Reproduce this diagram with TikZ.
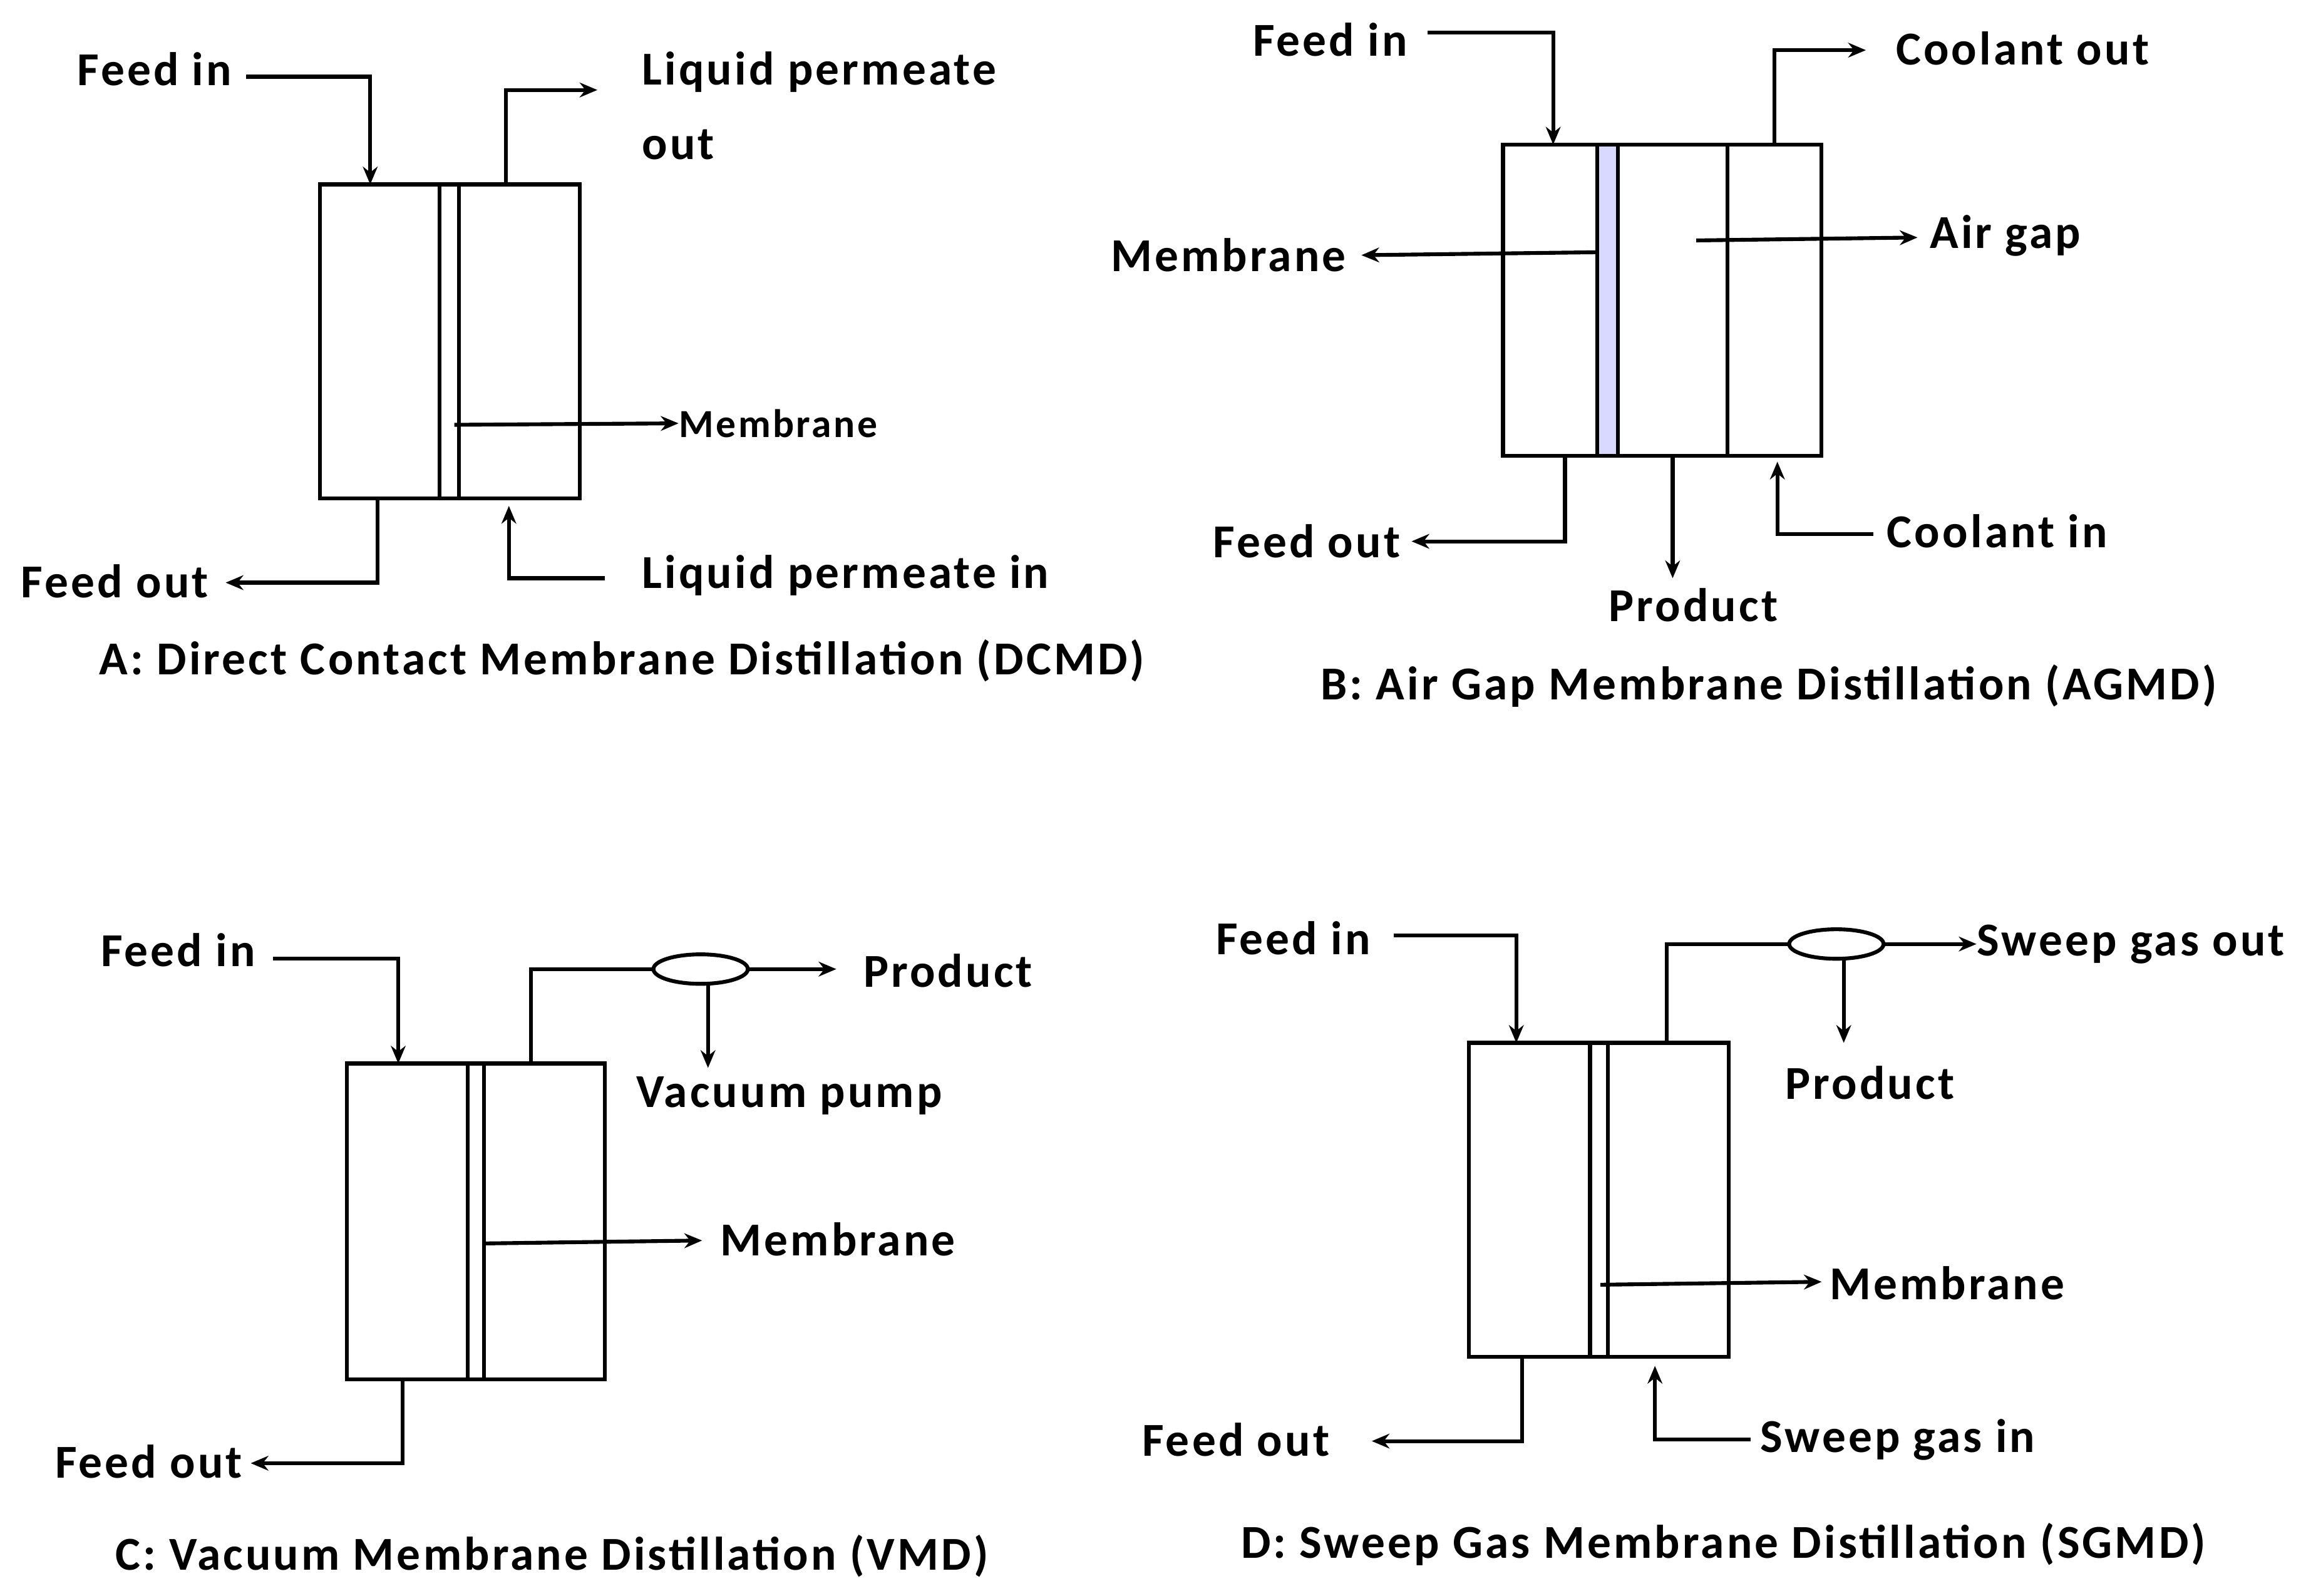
\documentclass[tikz,border=0pt]{standalone}
\usepackage{fontspec}
\setmainfont{Carlito}[LetterSpace=5.5]
\usetikzlibrary{arrows.meta,shapes.geometric}
\begin{document}
\begin{tikzpicture}[x=0.5pt,y=-0.5pt,
  ln/.style={line width=1.3pt},
  ar/.style={ln,-{Stealth[length=6pt,width=5pt]}},
  box/.style={ln},
  lab/.style={inner sep=0pt,font=\fontsize{16}{18}\selectfont\bfseries},
  labs/.style={inner sep=0pt,font=\fontsize{13.5}{16}\selectfont\bfseries}]
\useasboundingbox (0,0) rectangle (1560,1082);
\fill[white] (0,0) rectangle (1560,1082);
% ---------- A ----------
\draw[box] (217,125) rectangle (393,338);
\draw[ln] (298,125)--(298,338) (311,125)--(311,338);
\node[lab,anchor=west] (aFin) at (52,47) {Feed in};
\coordinate (aFin1) at (251,52); \coordinate (aFin2) at (251,125);
\draw[ar] (167,52)--(aFin1)--(aFin2);
\node[lab,anchor=west] (aLpo) at (435,49) {Liquid permeate};
\node[lab,anchor=west] (aLpo2) at (435,98) {out};
\draw[ar] (343,125)--(343,61)--(405,61);
\node[labs,anchor=west] (aMem) at (460,287) {Membrane};
\draw[ar] (308,288)--(aMem.west);
\node[lab,anchor=west] (aFout) at (14,394) {Feed out};
\draw[ar] (256,338)--(256,395)--(153,395);
\node[lab,anchor=west] (aLpi) at (435,390) {Liquid permeate in};
\draw[ar] (410,392)--(345,392)--(345,343);
\node[lab,anchor=west] (aCap) at (67,448) {A: Direct Contact Membrane Distillation (DCMD)};
% ---------- B ----------
\fill[blue!15] (1083,98) rectangle (1097,309);
\draw[box] (1019,98) rectangle (1235,309);
\draw[ln] (1083,98)--(1083,309) (1097,98)--(1097,309) (1171,98)--(1171,309);
\node[lab,anchor=west] (bFin) at (849,27) {Feed in};
\draw[ar] (968,22)--(1053,22)--(1053,98);
\node[lab,anchor=west] (bCout) at (1285,33) {Coolant out};
\draw[ar] (1203,98)--(1203,34)--(1265,34);
\node[lab,anchor=east] (bMem) at (913,173) {Membrane};
\draw[ar] (1083,171)--(923,173);
\node[lab,anchor=west] (bAir) at (1308,160) {Air gap};
\draw[ar] (1150,163)--(1300,161);
\node[lab,anchor=west] (bFout) at (822,367) {Feed out};
\draw[ar] (1061,309)--(1061,367)--(957,367);
\node[lab] (bProd) at (1148,410) {Product};
\draw[ar] (1134,309)--(1134,392);
\node[lab,anchor=west] (bCin) at (1279,360) {Coolant in};
\draw[ar] (1270,362)--(1205,362)--(1205,313);
\node[lab,anchor=west] (bCap) at (895,465) {B: Air Gap Membrane Distillation (AGMD)};
% ---------- C ----------
\draw[box] (235,721) rectangle (410,935);
\draw[ln] (317,721)--(317,935) (328,721)--(328,935);
\node[lab,anchor=west] (cFin) at (68,644) {Feed in};
\draw[ar] (185,650)--(270,650)--(270,721);
\node[ln,draw,ellipse,minimum width=32pt,minimum height=10pt,inner sep=0pt] (cEl) at (475,657) {};
\draw[ln] (360,721)--(360,657)--(cEl.west);
\node[lab,anchor=west] (cProd) at (585,658) {Product};
\draw[ar] (cEl.east)--(567,657);
\node[lab,anchor=west] (cVac) at (431,743) {Vacuum pump};
\draw[ar] (480,667)--(480,724);
\node[lab,anchor=west] (cMem) at (488,840) {Membrane};
\draw[ar] (328,843)--(476,841);
\node[lab,anchor=west] (cFout) at (37,991) {Feed out};
\draw[ar] (273,935)--(273,992)--(170,992);
\node[lab,anchor=west] (cCap) at (78,1055) {C: Vacuum Membrane Distillation (VMD)};
% ---------- D ----------
\draw[box] (996,707) rectangle (1172,920);
\draw[ln] (1078,707)--(1078,920) (1090,707)--(1090,920);
\node[lab,anchor=west] (dFin) at (824,636) {Feed in};
\draw[ar] (945,634)--(1028,634)--(1028,707);
\node[ln,draw,ellipse,minimum width=32pt,minimum height=10pt,inner sep=0pt] (dEl) at (1245,640) {};
\draw[ln] (1130,707)--(1130,640)--(dEl.west);
\node[lab,anchor=west] (dSgo) at (1340,640) {Sweep gas out};
\draw[ar] (dEl.east)--(dSgo.west);
\node[lab,anchor=west] (dProd) at (1210,734) {Product};
\draw[ar] (1250,650)--(1250,707);
\node[lab,anchor=west] (dMem) at (1240,870) {Membrane};
\draw[ar] (1085,871)--(1235,869);
\node[lab,anchor=west] (dFout) at (774,976) {Feed out};
\draw[ar] (1032,920)--(1032,977)--(930,977);
\node[lab,anchor=west] (dSgi) at (1193,976) {Sweep gas in};
\draw[ar] (1187,976)--(1122,976)--(1122,926);
\node[lab,anchor=west] (dCap) at (841,1047) {D: Sweep Gas Membrane Distillation (SGMD)};
\end{tikzpicture}
\end{document}
